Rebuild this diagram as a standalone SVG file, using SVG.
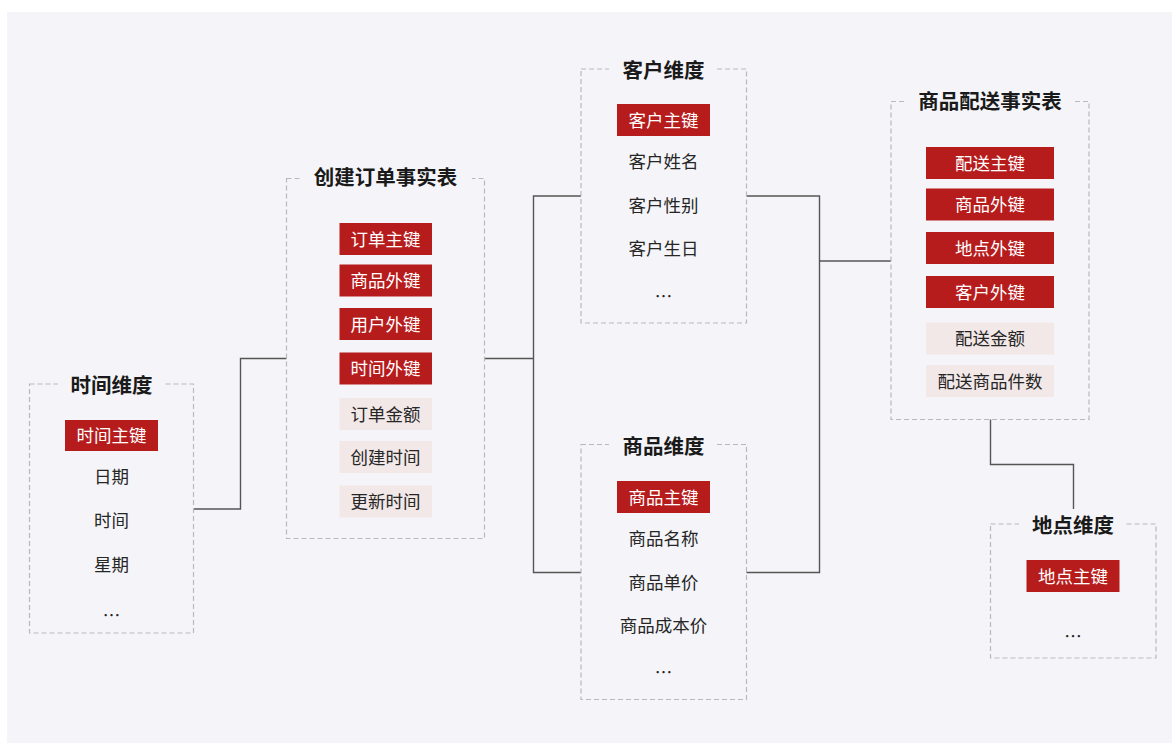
<svg xmlns="http://www.w3.org/2000/svg" width="1172" height="743" viewBox="0 0 1172 743">
<style>
text{font-family:"Noto Sans CJK SC","Noto Sans",sans-serif;text-anchor:middle;dominant-baseline:central}
.box{fill:none;stroke:#b9b9bd;stroke-width:1.2;stroke-dasharray:5 3}
.tbg{fill:#f5f5f9}
.title{font-size:20.5px;font-weight:bold;fill:#1a1a1a}
.key{fill:#b71c1c}
.keyt{font-size:17.5px;fill:#ffffff}
.attr{fill:#f3e8e8}
.t{font-size:17.5px;fill:#262626}
.conn{fill:none;stroke:#555555;stroke-width:1.4}
</style>
<rect x="0" y="0" width="1172" height="743" fill="#ffffff"/>
<rect x="7" y="12" width="1165" height="731" fill="#f5f5f9"/>

<g id="connectors">
<polyline class="conn" points="194,509 240.5,509 240.5,358.5 286.5,358.5"/>
<polyline class="conn" points="484.5,358.5 533.5,358.5"/>
<polyline class="conn" points="581,196 533.5,196 533.5,572.5 581,572.5"/>
<polyline class="conn" points="746.5,196 819.5,196 819.5,572.5 746.5,572.5"/>
<polyline class="conn" points="819.5,261 891,261"/>
<polyline class="conn" points="990.5,419.5 990.5,464.5 1073.5,464.5 1073.5,509"/>
</g>

<g id="time-dim">
<rect class="box" x="29.5" y="384" width="164" height="249"/>
<rect class="tbg" x="58" y="372" width="105" height="24"/>
<text class="title" x="111.5" y="383.5">时间维度</text>
<rect class="key" x="65" y="420" width="93" height="31"/>
<text class="keyt" x="111.5" y="434.5">时间主键</text>
<text class="t" x="111.5" y="475.5">日期</text>
<text class="t" x="111.5" y="519">时间</text>
<text class="t" x="111.5" y="563">星期</text>
<text class="t" x="111.5" y="614">…</text>
</g>

<g id="order-fact">
<rect class="box" x="286.5" y="178.5" width="198" height="360"/>
<rect class="tbg" x="302" y="165" width="170" height="26"/>
<text class="title" x="385.5" y="176">创建订单事实表</text>
<rect class="key" x="339.5" y="223" width="92.5" height="32"/>
<text class="keyt" x="385.5" y="238">订单主键</text>
<rect class="key" x="339.5" y="264.5" width="92.5" height="32"/>
<text class="keyt" x="385.5" y="279.5">商品外键</text>
<rect class="key" x="339.5" y="308" width="92.5" height="32"/>
<text class="keyt" x="385.5" y="323">用户外键</text>
<rect class="key" x="339.5" y="352.5" width="92.5" height="32"/>
<text class="keyt" x="385.5" y="367.5">时间外键</text>
<rect class="attr" x="339.5" y="398" width="92.5" height="32"/>
<text class="t" x="385.5" y="413">订单金额</text>
<rect class="attr" x="339.5" y="441" width="92.5" height="32"/>
<text class="t" x="385.5" y="456">创建时间</text>
<rect class="attr" x="339.5" y="485.5" width="92.5" height="32"/>
<text class="t" x="385.5" y="500.5">更新时间</text>
</g>

<g id="customer-dim">
<rect class="box" x="581" y="69" width="165.5" height="254"/>
<rect class="tbg" x="609" y="57" width="106" height="24"/>
<text class="title" x="663.5" y="69">客户维度</text>
<rect class="key" x="617" y="104" width="93" height="32"/>
<text class="keyt" x="663.5" y="119">客户主键</text>
<text class="t" x="663.5" y="160.5">客户姓名</text>
<text class="t" x="663.5" y="204">客户性别</text>
<text class="t" x="663.5" y="247.5">客户生日</text>
<text class="t" x="663.5" y="295">…</text>
</g>

<g id="product-dim">
<rect class="box" x="581" y="444.5" width="165.5" height="255"/>
<rect class="tbg" x="609" y="433" width="106" height="24"/>
<text class="title" x="663.5" y="445">商品维度</text>
<rect class="key" x="617" y="481" width="93" height="32"/>
<text class="keyt" x="663.5" y="496">商品主键</text>
<text class="t" x="663.5" y="537.5">商品名称</text>
<text class="t" x="663.5" y="581">商品单价</text>
<text class="t" x="663.5" y="624">商品成本价</text>
<text class="t" x="663.5" y="671">…</text>
</g>

<g id="delivery-fact">
<rect class="box" x="891" y="101.5" width="198" height="318"/>
<rect class="tbg" x="905" y="89" width="170" height="25"/>
<text class="title" x="990" y="99.5">商品配送事实表</text>
<rect class="key" x="926" y="147" width="128" height="32"/>
<text class="keyt" x="990" y="162">配送主键</text>
<rect class="key" x="926" y="188.5" width="128" height="32"/>
<text class="keyt" x="990" y="203.5">商品外键</text>
<rect class="key" x="926" y="232" width="128" height="32"/>
<text class="keyt" x="990" y="247">地点外键</text>
<rect class="key" x="926" y="276" width="128" height="32"/>
<text class="keyt" x="990" y="291">客户外键</text>
<rect class="attr" x="926" y="322.5" width="128" height="32"/>
<text class="t" x="990" y="337.5">配送金额</text>
<rect class="attr" x="926" y="365" width="128" height="32"/>
<text class="t" x="990" y="380">配送商品件数</text>
</g>

<g id="location-dim">
<rect class="box" x="990.5" y="524" width="165.5" height="134"/>
<rect class="tbg" x="1019" y="512" width="106" height="24"/>
<text class="title" x="1073" y="524">地点维度</text>
<rect class="key" x="1026.5" y="560" width="93" height="32"/>
<text class="keyt" x="1073" y="575">地点主键</text>
<text class="t" x="1073" y="635">…</text>
</g>
</svg>
